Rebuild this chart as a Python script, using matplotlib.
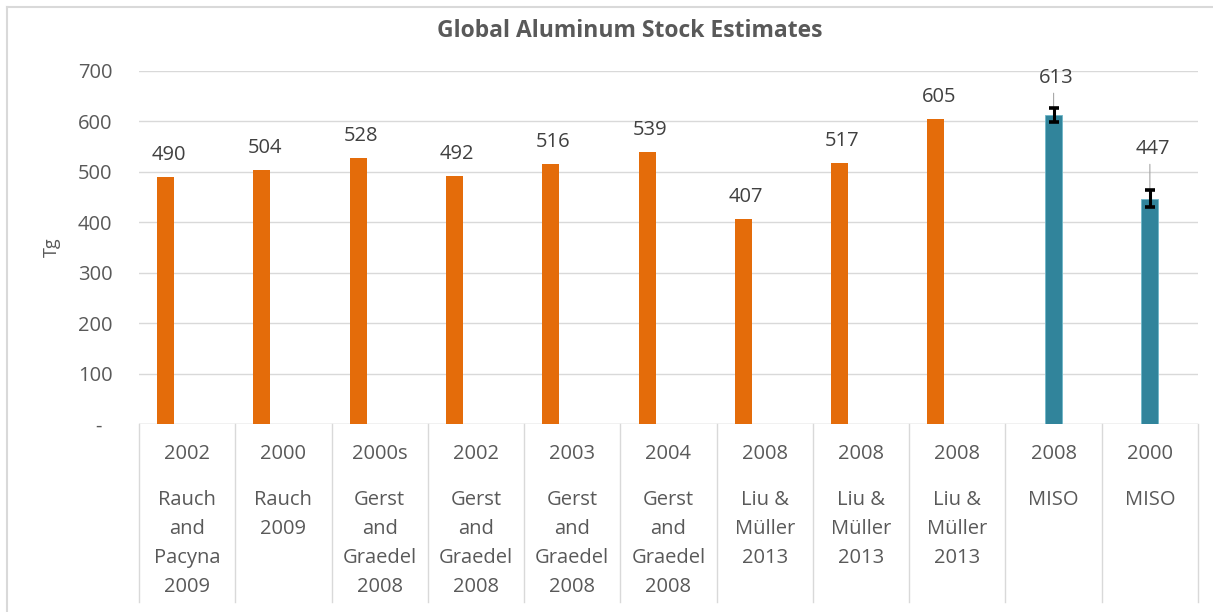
import matplotlib.pyplot as plt
from matplotlib.lines import Line2D
import numpy as np

# stock estimates (Tg) by study
years = ['2002', '2000', '2000s', '2002', '2003', '2004', '2008', '2008', '2008', '2008', '2000']
sources = ['Rauch\nand\nPacyna\n2009', 'Rauch\n2009', 'Gerst\nand\nGraedel\n2008',
           'Gerst\nand\nGraedel\n2008', 'Gerst\nand\nGraedel\n2008', 'Gerst\nand\nGraedel\n2008',
           'Liu &\nMüller\n2013', 'Liu &\nMüller\n2013', 'Liu &\nMüller\n2013', 'MISO', 'MISO']
literature = [490, 504, 528, 492, 516, 539, 407, 517, 605]
miso = [613, 447]
miso_err = [14, 17]

ORANGE = '#E46C0A'
TEAL = '#31849B'
GRID = '#D9D9D9'
TXT = '#595959'
FS = 14.5
plt.rcParams['font.family'] = ['Open Sans', 'DejaVu Sans']

W, H = 1213, 612
fig = plt.figure(figsize=(W / 100, H / 100), dpi=100)
x0, x1, ytop, ybot = 139, 1198, 71, 424
ax = fig.add_axes([x0 / W, 1 - ybot / H, (x1 - x0) / W, (ybot - ytop) / H])

n = len(years)
lit_x = np.arange(len(literature)) - 0.223
miso_x = np.arange(len(literature), n)
bw = 0.177

ax.bar(lit_x, literature, width=bw, color=ORANGE, zorder=3)
ax.bar(miso_x, miso, width=bw, color=TEAL, edgecolor='#6FB7C9', linewidth=0.6, zorder=3)
ax.errorbar(miso_x, miso, yerr=miso_err, fmt='none', ecolor='black', elinewidth=2.2,
            capsize=3.5, capthick=2.6, zorder=4)

for x, v in zip(lit_x, literature):
    ax.annotate(str(v), (x, v), xytext=(2, 16), textcoords='offset points',
                ha='center', va='center', fontsize=FS, color='#404040')

# MISO labels sit higher with a vertical leader line
for x, v, e, off in zip(miso_x, miso, miso_err, [21.5, 29.5]):
    ax.annotate('', (x, v + e), xytext=(0, off), textcoords='offset points',
                arrowprops=dict(arrowstyle='-', color='#A6A6A6', lw=0.8,
                                shrinkA=11, shrinkB=0.5))
    ax.annotate(str(v), (x, v + e), xytext=(2, off), textcoords='offset points',
                ha='center', va='center', fontsize=FS, color='#404040')

ax.set_xlim(-0.5, n - 0.5)
ax.set_ylim(0, 700)
ax.set_yticks(range(0, 701, 100))
ax.set_yticklabels(['-  '] + [str(v) for v in range(100, 701, 100)])
ax.tick_params(axis='y', length=0, pad=19, labelsize=FS, labelcolor=TXT)
ax.set_xticks([])
ax.grid(axis='y', color=GRID, lw=1, zorder=0)
for s in ax.spines.values():
    s.set_visible(False)
ax.axhline(0, color=GRID, lw=1, zorder=2)

# two-level category axis
depth = (602 - ybot) / (ybot - ytop)
trans = ax.get_xaxis_transform()
for b in np.arange(-0.5, n, 1.0):
    ax.add_line(Line2D([b, b], [0, -depth], transform=trans, color=GRID, lw=1, clip_on=False))
px = 1 / (ybot - ytop)
for i, (yr, src) in enumerate(zip(years, sources)):
    ax.text(i, -(454 - ybot) * px, yr, transform=trans, ha='center', va='center',
            fontsize=FS, color=TXT)
    for k, line in enumerate(src.split('\n')):
        ax.text(i, -(500 + 29 * k - ybot) * px, line, transform=trans, ha='center',
                va='center', fontsize=FS, color=TXT)

fig.text(629.5 / W, 1 - 31 / H, 'Global Aluminum Stock Estimates', ha='center', va='center',
         fontsize=16.5, fontweight='bold', color=TXT)
fig.text(52 / W, 1 - 247 / H, 'Tg', rotation=90, ha='center', va='center',
         fontsize=13, color=TXT)

# chart area border
fig.add_artist(Line2D([7 / W, 1], [1 - 7 / H, 1 - 7 / H], transform=fig.transFigure,
                      color=GRID, lw=1.5))
fig.add_artist(Line2D([7 / W, 7 / W], [0, 1 - 7 / H], transform=fig.transFigure,
                      color=GRID, lw=1.5))

fig.savefig('out.png', dpi=100, facecolor='white')
